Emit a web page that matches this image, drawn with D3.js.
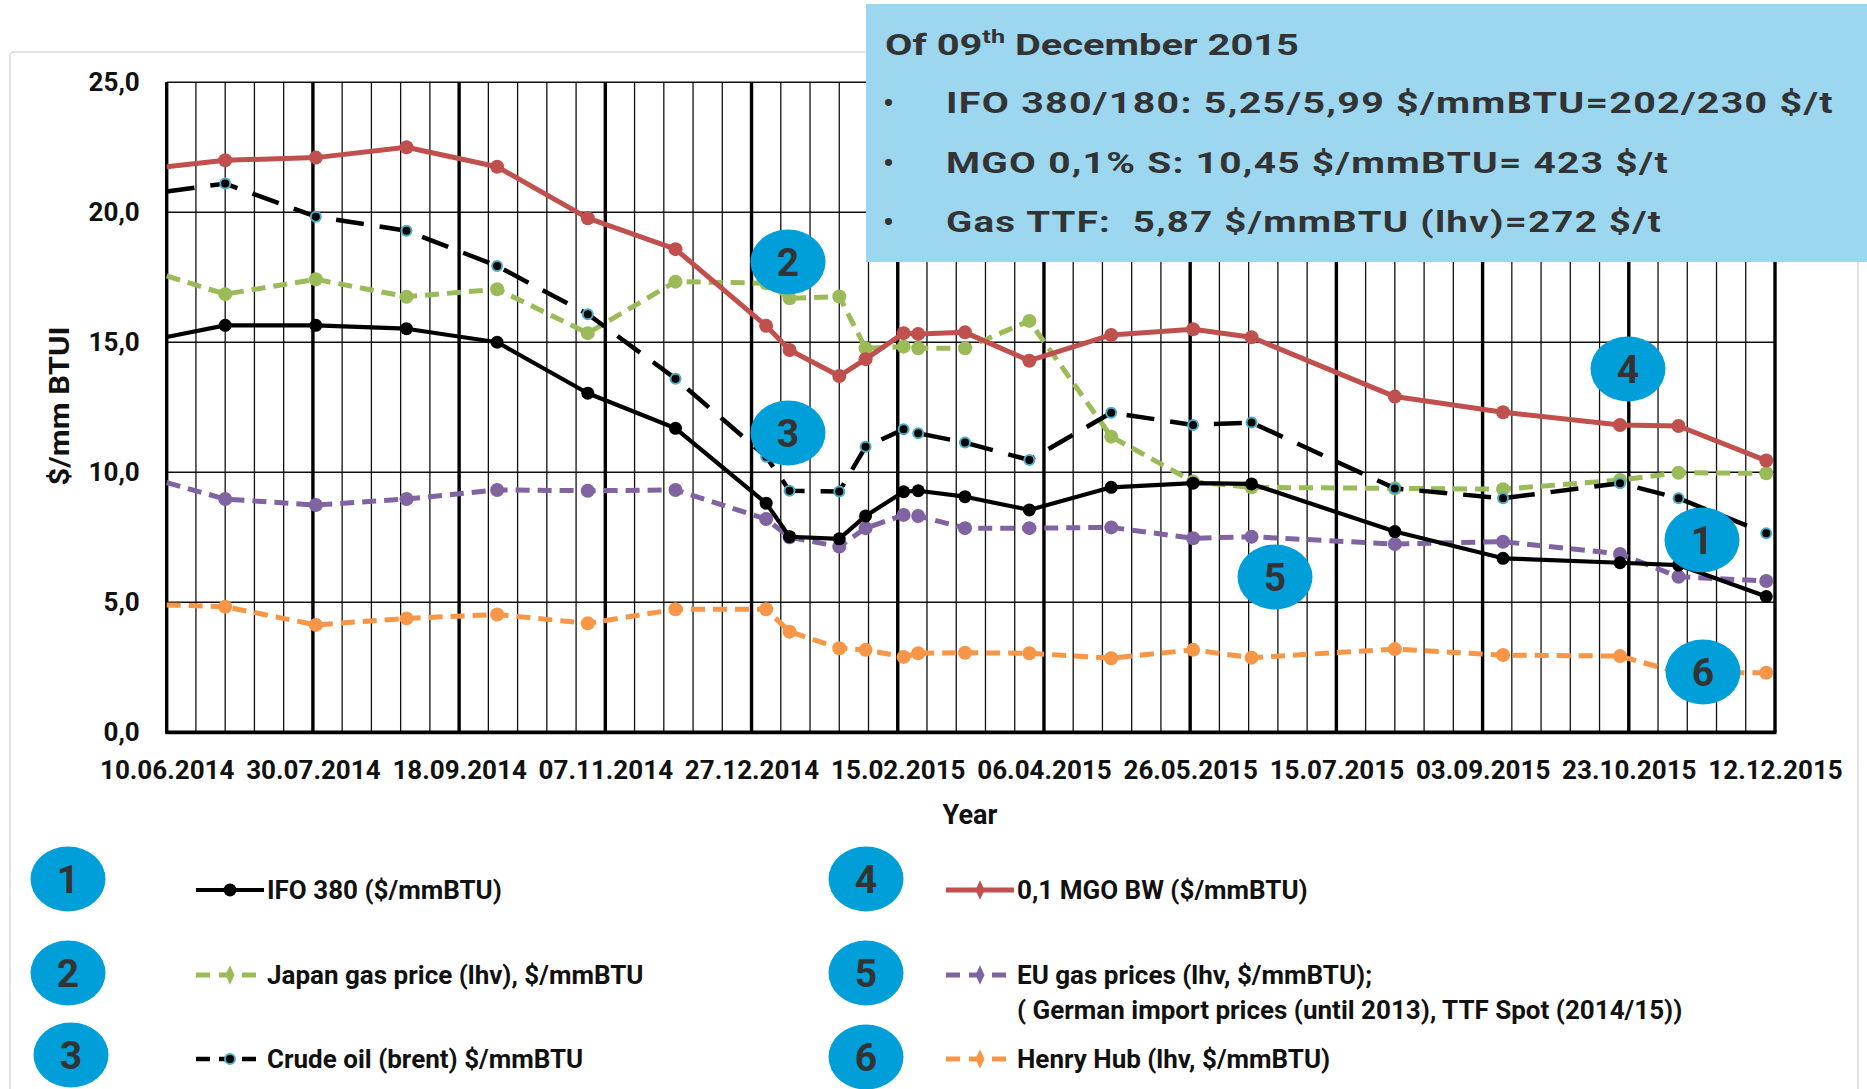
<!DOCTYPE html>
<html>
<head>
<meta charset="utf-8">
<script src="https://cdn.jsdelivr.net/npm/d3@7"></script>
<style>
  body { margin:0; background:#fff; }
  svg text { font-family: Roboto, "Open Sans", sans-serif; }
</style>
</head>
<body>
<script>
// observation dates (dd.mm.yyyy)
var dates = ["10.06.2014","30.06.2014","31.07.2014","31.08.2014","01.10.2014","01.11.2014",
             "01.12.2014","01.01.2015","09.01.2015","26.01.2015","04.02.2015","17.02.2015",
             "22.02.2015","10.03.2015","01.04.2015","29.04.2015","27.05.2015","16.06.2015",
             "04.08.2015","10.09.2015","20.10.2015","09.11.2015","09.12.2015"];

// $/mmBTU values
var ifo380   = [15.2,15.65,15.65,15.52,15.0,13.04,11.69,8.81,7.52,7.44,8.32,9.25,9.29,9.06,8.55,9.42,9.58,9.55,7.72,6.69,6.52,6.43,5.22];
var japanGas = [17.55,16.85,17.42,16.75,17.04,15.35,17.33,17.27,16.69,16.76,14.77,14.83,14.77,14.77,15.82,11.37,9.64,9.42,9.38,9.35,9.7,9.98,9.96];
var brent    = [20.8,21.1,19.83,19.29,17.93,16.08,13.6,10.6,9.29,9.26,10.98,11.65,11.5,11.14,10.47,12.29,11.82,11.91,9.38,9.0,9.58,9.0,7.65];
var mgo      = [21.75,22.0,22.1,22.5,21.75,19.77,18.58,15.63,14.7,13.7,14.35,15.35,15.32,15.38,14.29,15.28,15.5,15.19,12.91,12.31,11.82,11.78,10.45];
var euGas    = [9.6,8.97,8.74,8.97,9.32,9.29,9.32,8.2,7.5,7.14,7.85,8.36,8.32,7.85,7.85,7.88,7.46,7.52,7.24,7.33,6.86,5.98,5.82];
var henryHub = [4.9,4.83,4.13,4.38,4.53,4.19,4.73,4.73,3.87,3.23,3.17,2.9,3.04,3.06,3.04,2.85,3.17,2.87,3.2,2.97,2.93,2.3,2.29];

var xTickLabels = ["10.06.2014","30.07.2014","18.09.2014","07.11.2014","27.12.2014","15.02.2015",
                   "06.04.2015","26.05.2015","15.07.2015","03.09.2015","23.10.2015","12.12.2015"];
var yTicks = [0, 5, 10, 15, 20, 25];

var seriesNames = ["IFO 380 ($/mmBTU)", "Japan gas price (lhv), $/mmBTU", "Crude oil (brent) $/mmBTU",
                   "0,1 MGO BW ($/mmBTU)", "EU gas prices (lhv, $/mmBTU);", "Henry Hub (lhv, $/mmBTU)"];
var euNote = "( German import prices (until 2013), TTF Spot (2014/15))";

var boxLines = ["IFO 380/180: 5,25/5,99 $/mmBTU=202/230 $/t",
                "MGO 0,1% S: 10,45 $/mmBTU= 423 $/t",
                "Gas TTF:  5,87 $/mmBTU (lhv)=272 $/t"];

var width = 1867, height = 1089;
var svg = d3.select("body").append("svg")
  .attr("width", width)
  .attr("height", height);

var parse = d3.utcParse("%d.%m.%Y");
var x = d3.scaleUtc()
  .domain([parse(xTickLabels[0]), parse(xTickLabels[xTickLabels.length - 1])])
  .range([166.7, 1775]);
var y = d3.scaleLinear()
  .domain([0, 25])
  .range([732.3, 82.2]);

// light frame around the chart
svg.append("rect")
  .attr("x", 10).attr("y", 52)
  .attr("width", 1848).attr("height", 1100)
  .attr("rx", 4)
  .attr("fill", "none")
  .attr("stroke", "#d9d9d9")
  .attr("stroke-width", 1.5);

// grid
var start = x.domain()[0];
var thinDays = d3.range(0, 551, 10).map(function(d) { return d3.utcDay.offset(start, d); });
var tickDates = xTickLabels.map(parse);
var grid = svg.append("g");

grid.selectAll(".vthin").data(thinDays).enter().append("line")
  .attr("x1", function(d) { return x(d); })
  .attr("x2", function(d) { return x(d); })
  .attr("y1", y(25)).attr("y2", y(0))
  .attr("stroke", "#111").attr("stroke-width", 1.3);

grid.selectAll(".hline").data(yTicks).enter().append("line")
  .attr("x1", x.range()[0]).attr("x2", x.range()[1])
  .attr("y1", function(d) { return y(d); })
  .attr("y2", function(d) { return y(d); })
  .attr("stroke", "#111").attr("stroke-width", 1.4);

grid.selectAll(".vthick").data(tickDates).enter().append("line")
  .attr("x1", function(d) { return x(d); })
  .attr("x2", function(d) { return x(d); })
  .attr("y1", y(25)).attr("y2", y(0))
  .attr("stroke", "#000").attr("stroke-width", 3.4);

// bottom axis line
grid.append("line")
  .attr("x1", x.range()[0] - 1.5).attr("x2", x.range()[1] + 1.5)
  .attr("y1", y(0)).attr("y2", y(0))
  .attr("stroke", "#000").attr("stroke-width", 3.8);

// axes labels
var xAxis = d3.axisBottom(x)
  .tickValues(tickDates)
  .tickFormat(d3.utcFormat("%d.%m.%Y"))
  .tickSize(0)
  .tickPadding(28);
var gx = svg.append("g")
  .attr("transform", "translate(0," + y(0) + ")")
  .call(xAxis);
gx.select(".domain").remove();
gx.selectAll("text")
  .attr("font-size", 26).attr("font-weight", 700).attr("fill", "#111")
  .style("font-family", "Roboto");

var yAxis = d3.axisLeft(y)
  .tickValues(yTicks)
  .tickFormat(function(d) { return d3.format(".1f")(d).replace(".", ","); })
  .tickSize(0)
  .tickPadding(27);
var gy = svg.append("g")
  .attr("transform", "translate(" + x.range()[0] + ",0)")
  .call(yAxis);
gy.select(".domain").remove();
gy.selectAll("text")
  .attr("font-size", 26).attr("font-weight", 700).attr("fill", "#111")
  .style("font-family", "Roboto");

svg.append("text")
  .attr("x", 970).attr("y", 824)
  .attr("text-anchor", "middle")
  .attr("font-size", 27).attr("font-weight", 700).attr("fill", "#111")
  .text("Year");

svg.append("text")
  .attr("transform", "translate(69,406) rotate(-90)")
  .attr("text-anchor", "middle")
  .attr("font-size", 27).attr("font-weight", 700).attr("fill", "#111")
  .attr("textLength", 159).attr("lengthAdjust", "spacingAndGlyphs")
  .text("$/mm BTUI");

// series
var series = [
  {name: seriesNames[5], values: henryHub, color: "#f79646", w: 5, dash: "14,8", r: 7, fill: "#f79646", stroke: "none", legendMark: "diamond"},
  {name: seriesNames[4], values: euGas,    color: "#8064a2", w: 5, dash: "14,8", r: 7, fill: "#8064a2", stroke: "none", legendMark: "diamond"},
  {name: seriesNames[1], values: japanGas, color: "#9bbb59", w: 5, dash: "14,8", r: 7, fill: "#9bbb59", stroke: "none", legendMark: "diamond"},
  {name: seriesNames[2], values: brent,    color: "#000",    w: 4.5, dash: "28,16", r: 5, fill: "#000", stroke: "#4bacc6", legendMark: "circle"},
  {name: seriesNames[0], values: ifo380,   color: "#000",    w: 4.2, dash: null, r: 6.5, fill: "#000", stroke: "none", legendMark: "circle"},
  {name: seriesNames[3], values: mgo,      color: "#c0504d", w: 5, dash: null, r: 7, fill: "#c0504d", stroke: "none", legendMark: "diamond"}
];

var line = d3.line()
  .x(function(d) { return x(d.date); })
  .y(function(d) { return y(d.v); });

var plot = svg.append("g");
series.forEach(function(s) {
  var rows = dates.map(function(d, i) { return {date: parse(d), v: s.values[i]}; });
  plot.append("path")
    .datum(rows)
    .attr("d", line)
    .attr("fill", "none")
    .attr("stroke", s.color)
    .attr("stroke-width", s.w)
    .attr("stroke-dasharray", s.dash)
    .attr("stroke-linejoin", "round");
  // first point sits on the axis without a marker
  plot.selectAll(null)
    .data(rows.slice(1))
    .enter()
    .append("circle")
    .attr("cx", function(d) { return x(d.date); })
    .attr("cy", function(d) { return y(d.v); })
    .attr("r", s.r)
    .attr("fill", s.fill)
    .attr("stroke", s.stroke)
    .attr("stroke-width", 2);
});

// info box
var box = svg.append("g");
box.append("rect")
  .attr("x", 866).attr("y", 4)
  .attr("width", 1001).attr("height", 258)
  .attr("fill", "#9dd7ef");
var title = box.append("text")
  .attr("x", 885).attr("y", 55)
  .attr("font-size", 30).attr("font-weight", 700).attr("fill", "#333")
  .attr("textLength", 414).attr("lengthAdjust", "spacingAndGlyphs");
title.append("tspan").text("Of 09");
title.append("tspan").attr("dy", -12).attr("font-size", 19).text("th");
title.append("tspan").attr("dy", 12).text(" December 2015");

var boxWidths = [888, 723, 716];
var boxY = [113, 173, 232];
boxLines.forEach(function(t, i) {
  box.append("text")
    .attr("x", 883).attr("y", boxY[i])
    .attr("font-size", 30).attr("font-weight", 700).attr("fill", "#333")
    .text("\u2022");
  box.append("text")
    .attr("x", 946).attr("y", boxY[i])
    .attr("font-size", 30).attr("font-weight", 700).attr("fill", "#333")
    .attr("letter-spacing", 1)
    .style("white-space", "pre")
    .attr("textLength", boxWidths[i]).attr("lengthAdjust", "spacingAndGlyphs")
    .text(t);
});

// numbered badges
function badge(cx, cy, n) {
  var g = svg.append("g").attr("transform", "translate(" + cx + "," + cy + ")");
  g.append("ellipse").attr("rx", 37.5).attr("ry", 32.5).attr("fill", "#009fda");
  g.append("text")
    .attr("text-anchor", "middle").attr("dy", "0.36em")
    .attr("font-size", 39).attr("font-weight", 700).attr("fill", "#333")
    .text(n);
}
var plotBadges = [[1702, 540, 1], [788, 262, 2], [788, 433, 3], [1628, 369, 4], [1275, 577, 5], [1703, 672, 6]];
plotBadges.forEach(function(b) { badge(b[0], b[1], b[2]); });

// legend
var legendOrder = [4, 2, 3, 5, 1, 0]; // index into series array for numbers 1..6
var legendPos = [
  {bx: 68, by: 879, lx: 196, y: 890},
  {bx: 68, by: 973, lx: 196, y: 975},
  {bx: 71, by: 1055, lx: 196, y: 1059},
  {bx: 866, by: 879, lx: 946, y: 890},
  {bx: 866, by: 973, lx: 946, y: 975},
  {bx: 866, by: 1057, lx: 946, y: 1059}
];
var diamond = d3.symbol().type(d3.symbolDiamond).size(110);
legendPos.forEach(function(p, i) {
  var s = series[legendOrder[i]];
  badge(p.bx, p.by, i + 1);
  var g = svg.append("g");
  g.append("line")
    .attr("x1", p.lx).attr("x2", p.lx + 68)
    .attr("y1", p.y).attr("y2", p.y)
    .attr("stroke", s.color).attr("stroke-width", s.w)
    .attr("stroke-dasharray", s.dash ? "14,9" : null);
  if (s.legendMark === "diamond") {
    g.append("path")
      .attr("transform", "translate(" + (p.lx + 34) + "," + p.y + ") scale(0.8,1)")
      .attr("d", diamond)
      .attr("fill", s.fill);
  } else {
    g.append("circle")
      .attr("cx", p.lx + 34).attr("cy", p.y).attr("r", s.r)
      .attr("fill", s.fill).attr("stroke", s.stroke).attr("stroke-width", 2);
  }
  g.append("text")
    .attr("x", p.lx + 71).attr("y", p.y).attr("dy", "0.35em")
    .attr("font-size", 26).attr("font-weight", 700).attr("fill", "#111")
    .text(s.name);
  if (i === 4) {
    g.append("text")
      .attr("x", p.lx + 71).attr("y", 1010).attr("dy", "0.35em")
      .attr("font-size", 26).attr("font-weight", 700).attr("fill", "#111")
      .text(euNote);
  }
});
</script>
</body>
</html>
